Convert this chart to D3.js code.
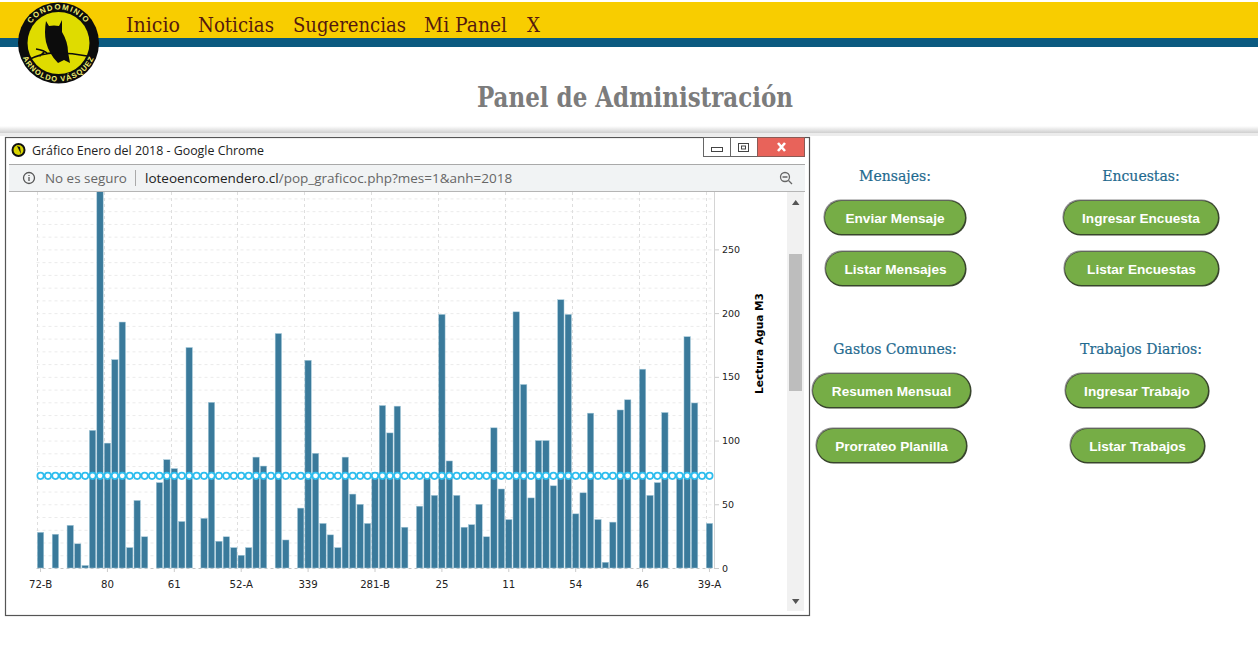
<!DOCTYPE html>
<meta charset="utf-8">
<script src="https://d3js.org/d3.v7.min.js"></script>
<style>
    html, body { margin: 0; padding: 0; background: #fff; overflow: hidden; }
    svg { display: block; }
    .slab { font-family: "DejaVu Serif Condensed", "DejaVu Serif", serif; font-stretch: condensed; }
    .ui { font-family: "Open Sans", sans-serif; }
    .btn text { font-family: "Liberation Sans", Arial, sans-serif; font-weight: bold; font-size: 13.6px; fill: #fff; text-anchor: middle; }
    .axis text { font-family: "DejaVu Sans", Verdana, sans-serif; font-size: 9.5px; fill: #222; }
    .axis.bottom text { font-size: 10.2px; }
    .axis path { display: none; }
    .axis line { stroke: #ccc; }
</style>

<svg></svg>

<script>

    // lectura de agua por lote, se lee de izquierda a derecha (91 lotes)
    var lecturas = [
        28, 0, 26.5, 0, 33.5, 19, 2, 108, 300, 98,
        163.5, 193, 16, 53, 24.5, 0, 67, 85, 78, 36.5,
        173, 0, 39, 130, 21, 24.5, 16, 10, 16, 87,
        80, 0, 184, 22, 0, 47, 163, 90, 35, 26,
        16, 87, 58, 50, 35, 75, 127.5, 106, 127, 32,
        0, 48.5, 70, 57, 199, 84, 57, 32, 34, 50,
        24.5, 110, 62, 38, 201, 144, 55, 100, 100, 64.5,
        210.5, 199, 42.5, 59, 121.5, 38, 4.5, 36, 124, 132,
        0, 156, 57, 67, 122, 0, 71, 181.5, 129.5, 0,
        35
    ];
    var promedio = 72.3;

    var tickLabels = ["72-B", "80", "61", "52-A", "339", "281-B", "25", "11", "54", "46", "39-A"];
    var tickPos = [0, 9, 18, 27, 36, 45, 54, 63, 72, 81, 90];
    var yTicks = [0, 50, 100, 150, 200, 250];
    var yGrid = d3.range(0, 300, 10);

    var navItems = ["Inicio", "Noticias", "Sugerencias", "Mi Panel", "X"];
    var navX = [126, 198, 293, 424, 527];
    var navW = [54, 76, 113, 83, 13];

    var headings = ["Mensajes:", "Encuestas:", "Gastos Comunes:", "Trabajos Diarios:"];
    var headingX = [895, 1141, 895, 1141];
    var headingY = [181, 181, 354, 354];

    var buttons = ["Enviar Mensaje", "Listar Mensajes", "Ingresar Encuesta", "Listar Encuestas",
                   "Resumen Mensual", "Prorrateo Planilla", "Ingresar Trabajo", "Listar Trabajos"];
    var btnX0 = [825, 826, 1064, 1065, 813, 817, 1066, 1071];
    var btnX1 = [965, 965, 1218, 1218, 970, 966, 1208, 1204];
    var btnY0 = [201, 252, 201, 252, 374, 429, 374, 429];

    var width = 1258, height = 656;

    var svg = d3.select("svg").attr("width", width).attr("height", height);
    var defs = svg.append("defs");

    var shade = defs.append("linearGradient").attr("id", "shade").attr("x2", 0).attr("y2", 1);
    shade.append("stop").attr("offset", 0).attr("stop-color", "#fff");
    shade.append("stop").attr("offset", 1).attr("stop-color", "#cfcfcf");

    defs.append("clipPath").attr("id", "view")
        .append("rect").attr("x", 7).attr("y", 192).attr("width", 780).attr("height", 422);

    defs.append("path").attr("id", "arcTop").attr("d", "M 25 43 A 33.5 33.5 0 0 1 92 43");
    defs.append("path").attr("id", "arcBottom").attr("d", "M 20 43 A 38.5 38.5 0 0 0 97 43");

    // cabecera
    svg.append("rect").attr("y", 2).attr("width", width).attr("height", 36).attr("fill", "#f8cd00");
    svg.append("rect").attr("y", 38).attr("width", width).attr("height", 9).attr("fill", "#0b5a80");

    svg.selectAll(".nav").data(navItems).join("text")
        .attr("class", "nav slab")
        .attr("x", (d, i) => navX[i])
        .attr("y", 32)
        .attr("font-size", 20)
        .attr("fill", "#54190f")
        .attr("textLength", (d, i) => navW[i])
        .attr("lengthAdjust", "spacingAndGlyphs")
        .text(d => d);

    buildLogo();

    svg.append("text").attr("class", "slab")
        .attr("x", 477).attr("y", 107)
        .attr("font-size", 27).attr("font-weight", "bold")
        .attr("fill", "#7c7c7c")
        .attr("textLength", 316)
        .attr("lengthAdjust", "spacingAndGlyphs")
        .text("Panel de Administración");

    svg.append("rect").attr("y", 126).attr("width", width).attr("height", 7).attr("fill", "url(#shade)");
    svg.append("rect").attr("y", 133).attr("width", width).attr("height", 3).attr("fill", "#ececec");

    buildWindow();
    buildChart();
    buildPanel();

    function buildLogo() {
        var g = svg.append("g");
        g.append("circle").attr("cx", 58.5).attr("cy", 43).attr("r", 40.5).attr("fill", "#0c0c0c");
        g.append("circle").attr("cx", 58.5).attr("cy", 43).attr("r", 31).attr("fill", "#dfdc00");
        // buho y rama
        g.append("path").attr("fill", "#0c0c0c")
            .attr("d", "M46 21 L49 26 Q54 25 59 26 L62 20 L62 32 Q68 42 68 52 L70 63 L64 60 L58 63 Q49 54 46 42 Q44 32 46 21 Z");
        g.append("path").attr("fill", "none").attr("stroke", "#0c0c0c").attr("stroke-width", 1.6)
            .attr("d", "M28 60 Q44 52 58 53 Q72 53 87 56 M48 54 Q44 50 36 49 M44 52 L40 56");
        g.append("text").attr("font-family", "Liberation Sans").attr("font-weight", "bold")
            .attr("font-size", 7.8).attr("fill", "#f0ee70").attr("letter-spacing", 1.3)
            .append("textPath").attr("href", "#arcTop").attr("startOffset", "50%").attr("text-anchor", "middle")
            .text("CONDOMINIO");
        g.append("text").attr("font-family", "Liberation Sans").attr("font-weight", "bold")
            .attr("font-size", 7.5).attr("fill", "#f0ee70").attr("letter-spacing", 1)
            .append("textPath").attr("href", "#arcBottom").attr("startOffset", "50%").attr("text-anchor", "middle")
            .text("ARNOLDO VÁSQUEZ");
    }

    function buildWindow() {
        var g = svg.append("g");
        g.append("rect").attr("x", 5.5).attr("y", 137.5).attr("width", 804).attr("height", 478)
            .attr("fill", "#fff").attr("stroke", "#555").attr("stroke-width", 1.2);
        g.append("rect").attr("x", 9).attr("y", 165).attr("width", 796).attr("height", 26).attr("fill", "#f1f3f4");
        g.append("line").attr("x1", 9).attr("x2", 805).attr("y1", 164.5).attr("y2", 164.5).attr("stroke", "#a9a9a9");
        g.append("line").attr("x1", 9).attr("x2", 805).attr("y1", 191.5).attr("y2", 191.5).attr("stroke", "#b5b5b5");

        // botones de la ventana
        g.append("rect").attr("x", 703.5).attr("y", 137.5).attr("width", 27).attr("height", 19).attr("fill", "#fff").attr("stroke", "#666");
        g.append("rect").attr("x", 730.5).attr("y", 137.5).attr("width", 27).attr("height", 19).attr("fill", "#fff").attr("stroke", "#666");
        g.append("rect").attr("x", 757.5).attr("y", 137.5).attr("width", 47).attr("height", 19).attr("fill", "#e8635a").attr("stroke", "#8a5a55");
        g.append("rect").attr("x", 711.5).attr("y", 147.5).attr("width", 11).attr("height", 4).attr("fill", "#fff").attr("stroke", "#444");
        g.append("rect").attr("x", 738.5).attr("y", 143.5).attr("width", 10).attr("height", 8).attr("fill", "#fff").attr("stroke", "#444");
        g.append("rect").attr("x", 741.5).attr("y", 146).attr("width", 4).attr("height", 3).attr("fill", "#fff").attr("stroke", "#444");
        g.append("path").attr("d", "M778 143 L785 151 M785 143 L778 151").attr("stroke", "#fff").attr("stroke-width", 2.6);

        // icono de la pagina
        g.append("circle").attr("cx", 18.5).attr("cy", 150).attr("r", 7).attr("fill", "#111");
        g.append("circle").attr("cx", 18.5).attr("cy", 150).attr("r", 5).attr("fill", "#d8d400");
        g.append("path").attr("d", "M17 146 L20 147 L21 154 Z").attr("fill", "#111");

        g.append("text").attr("class", "ui").attr("x", 32).attr("y", 155)
            .attr("font-size", 12.4).attr("fill", "#222")
            .text("Gráfico Enero del 2018 - Google Chrome");

        // barra de direccion
        g.append("circle").attr("cx", 29).attr("cy", 178).attr("r", 5.5).attr("fill", "none").attr("stroke", "#555").attr("stroke-width", 1.3);
        g.append("path").attr("d", "M29 177 V181 M29 175 V176").attr("stroke", "#555").attr("stroke-width", 1.3);
        g.append("text").attr("class", "ui").attr("x", 45).attr("y", 183)
            .attr("font-size", 13.4).attr("fill", "#666").text("No es seguro");
        g.append("line").attr("x1", 135.5).attr("x2", 135.5).attr("y1", 170).attr("y2", 186).attr("stroke", "#aaa");
        var url = g.append("text").attr("class", "ui").attr("x", 145).attr("y", 183).attr("font-size", 13.5);
        url.append("tspan").attr("fill", "#222").text("loteoencomendero.cl");
        url.append("tspan").attr("fill", "#666").text("/pop_graficoc.php?mes=1&anh=2018");
        g.append("circle").attr("cx", 785).attr("cy", 177).attr("r", 4.5).attr("fill", "none").attr("stroke", "#666").attr("stroke-width", 1.3);
        g.append("path").attr("d", "M782.5 177 H787.5 M788.5 180.5 L792 184").attr("stroke", "#666").attr("stroke-width", 1.3);

        // scrollbar
        g.append("rect").attr("x", 787).attr("y", 192).attr("width", 17).attr("height", 419).attr("fill", "#f1f1f1");
        g.append("rect").attr("x", 789).attr("y", 254).attr("width", 13).attr("height", 137).attr("fill", "#bdbdbd");
        g.append("path").attr("d", "M792 205 L799.5 205 L795.7 200 Z M792 599 L799.5 599 L795.7 604 Z").attr("fill", "#555");
    }

    function buildChart() {
        var x = d3.scaleBand()
            .domain(d3.range(lecturas.length))
            .range([36.3, 713.7])
            .padding(0.14);

        var y = d3.scaleLinear()
            .domain([0, 250])
            .range([568, 249.4]);

        var g = svg.append("g").attr("clip-path", "url(#view)");

        // rejilla
        g.append("g").selectAll("line").data(yGrid).join("line")
            .attr("x1", 36.5).attr("x2", 714)
            .attr("y1", d => y(d) + 0.5).attr("y2", d => y(d) + 0.5)
            .attr("stroke", d => d == 0 ? "#c4c4c4" : "#ebebeb")
            .attr("stroke-dasharray", "3,3");

        g.append("g").selectAll("line").data(tickPos).join("line")
            .attr("x1", d => Math.round(x(d) - x.step() * x.padding() / 2) + 0.5)
            .attr("x2", d => Math.round(x(d) - x.step() * x.padding() / 2) + 0.5)
            .attr("y1", 192).attr("y2", 568)
            .attr("stroke", "#dedede")
            .attr("stroke-dasharray", "3,3");

        g.append("g").selectAll("rect").data(lecturas).join("rect")
            .attr("x", (d, i) => x(i))
            .attr("y", d => y(d))
            .attr("width", x.bandwidth())
            .attr("height", d => y(0) - y(d))
            .attr("fill", "#3a7a9b")
            .attr("stroke", "#a8cbdb")
            .attr("stroke-width", d => d > 0 ? 0.5 : 0);

        // promedio
        g.append("g").selectAll("circle").data(lecturas).join("circle")
            .attr("cx", (d, i) => x(i) + x.bandwidth() / 2)
            .attr("cy", y(promedio))
            .attr("r", 3.2)
            .attr("fill", "#fff")
            .attr("stroke", "#2dbdee")
            .attr("stroke-width", 1.7);

        var xAxis = d3.axisBottom(x)
            .tickValues(tickPos)
            .tickFormat((d, i) => tickLabels[i])
            .tickSize(4)
            .tickPadding(9);

        svg.append("g").attr("class", "axis bottom")
            .attr("transform", "translate(0,568)")
            .call(xAxis);

        var yAxis = d3.axisRight(y)
            .tickValues(yTicks)
            .tickSize(5)
            .tickPadding(3);

        svg.append("g").attr("class", "axis")
            .attr("transform", "translate(714,0)")
            .call(yAxis);

        svg.append("line").attr("x1", 714.5).attr("x2", 714.5).attr("y1", 192).attr("y2", 568).attr("stroke", "#d4d4d4");

        svg.append("text")
            .attr("transform", "translate(762.5,343.5) rotate(-90)")
            .attr("text-anchor", "middle")
            .attr("font-family", "DejaVu Sans")
            .attr("font-weight", "bold")
            .attr("font-size", 10.6)
            .attr("fill", "#000")
            .text("Lectura Agua M3");
    }

    function buildPanel() {
        svg.selectAll(".heading").data(headings).join("text")
            .attr("class", "heading slab")
            .attr("x", (d, i) => headingX[i])
            .attr("y", (d, i) => headingY[i])
            .attr("text-anchor", "middle")
            .attr("font-size", 15.6)
            .attr("fill", "#1f6a8f")
            .attr("stroke", "#1f6a8f")
            .attr("stroke-width", 0.2)
            .text(d => d);

        var btn = svg.selectAll(".btn").data(buttons).join("g").attr("class", "btn");
        var h = 33;
        btn.append("rect")
            .attr("x", (d, i) => btnX0[i] - 1.5).attr("y", (d, i) => btnY0[i] - 1.5)
            .attr("width", (d, i) => btnX1[i] - btnX0[i] + 2).attr("height", h + 2)
            .attr("rx", 17).attr("fill", "#8a8a8a");
        btn.append("rect")
            .attr("x", (d, i) => btnX0[i] - 0.5).attr("y", (d, i) => btnY0[i] - 0.5)
            .attr("width", (d, i) => btnX1[i] - btnX0[i] + 2).attr("height", h + 2)
            .attr("rx", 17).attr("fill", "#38452c");
        btn.append("rect")
            .attr("x", (d, i) => btnX0[i]).attr("y", (d, i) => btnY0[i])
            .attr("width", (d, i) => btnX1[i] - btnX0[i]).attr("height", h)
            .attr("rx", 16.5).attr("fill", "#76ad46");
        btn.append("text")
            .attr("x", (d, i) => (btnX0[i] + btnX1[i]) / 2)
            .attr("y", (d, i) => btnY0[i] + 21.5)
            .text(d => d);
    }

</script>
